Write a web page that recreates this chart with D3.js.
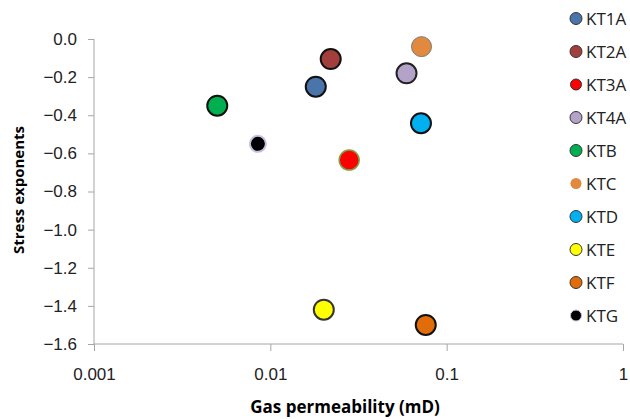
<!DOCTYPE html>
<html>
<head>
<meta charset="utf-8">
<script src="https://cdn.jsdelivr.net/npm/d3@7"></script>
<style>
  body { margin: 0; background: #fff; }
  svg { font-family: "Open Sans", "Liberation Sans", sans-serif; }
  .axis path, .axis line { stroke: #a6a6a6; }
  .axis text { fill: #222; font-size: 17px; }
</style>
</head>
<body>
<svg id="chart" width="630" height="419"></svg>
<script>
// samples, gas permeability (mD) and stress exponents
var samples = ["KT1A", "KT2A", "KT3A", "KT4A", "KTB", "KTC", "KTD", "KTE", "KTF", "KTG"];
var permeability = [0.0181, 0.0220, 0.0280, 0.0592, 0.0050, 0.0720, 0.0715, 0.0201, 0.0761, 0.0085];
var stressExp = [-0.25, -0.105, -0.635, -0.18, -0.35, -0.04, -0.442, -1.42, -1.50, -0.55];

var xTicks = [0.001, 0.01, 0.1, 1];
var yTicks = [0, -0.2, -0.4, -0.6, -0.8, -1.0, -1.2, -1.4, -1.6];

// marker look per sample
var fills = ["#4a75ab", "#a23f3d", "#ff0000", "#b3a3c8", "#00b050", "#e0893f", "#00b0f0", "#ffff00", "#e36c0a", "#000000"];
var strokes = ["#111", "#111", "#7ea045", "#222", "#111", "#7a7a7a", "#111", "#333", "#111", "#c9bde0"];
var widths = [2, 2, 1.5, 2, 2, 1, 2, 2, 2, 2];
var radius = [10, 10, 10, 10, 10, 10, 10, 10, 10, 8];

var data = samples.map(function(s, i) {
    return { name: s, perm: permeability[i], exp: stressExp[i], i: i };
});

var svg = d3.select("#chart");
var plot = { left: 94, right: 623, top: 39, bottom: 344 };

// log x scale, linear y scale
var x = d3.scaleLog().domain([0.001, 1]).range([plot.left, plot.right]);
var y = d3.scaleLinear().domain([-1.6, 0]).range([plot.bottom, plot.top]);

var xAxis = d3.axisBottom(x).tickValues(xTicks).tickSize(7).tickPadding(17)
    .tickFormat(function(d) { return String(d); });
var yAxis = d3.axisLeft(y).tickValues(yTicks).tickSize(6).tickPadding(11)
    .tickFormat(d3.format(".1f"));

svg.append("g").attr("class", "axis")
    .attr("transform", "translate(0," + plot.bottom + ")")
    .call(xAxis)
    .call(function(g) { g.select(".domain").attr("d", "M" + plot.left + ",0H" + plot.right); });

svg.append("g").attr("class", "axis")
    .attr("transform", "translate(" + plot.left + ",0)")
    .call(yAxis)
    .call(function(g) { g.select(".domain").attr("d", "M0," + plot.top + "V" + plot.bottom); });

// axis titles
svg.append("text")
    .attr("x", 345)
    .attr("y", 413)
    .attr("text-anchor", "middle")
    .style("font-weight", "bold")
    .style("font-size", "17px")
    .text("Gas permeability (mD)");

svg.append("text")
    .attr("transform", "translate(24,190) rotate(-90)")
    .attr("text-anchor", "middle")
    .style("font-weight", "bold")
    .style("font-size", "15px")
    .text("Stress exponents");

// points
svg.append("g").selectAll("circle")
    .data(data)
    .enter()
    .append("circle")
    .attr("cx", function(d) { return x(d.perm); })
    .attr("cy", function(d) { return y(d.exp); })
    .attr("r", function(d) { return radius[d.i]; })
    .attr("fill", function(d) { return fills[d.i]; })
    .attr("stroke", function(d) { return strokes[d.i]; })
    .attr("stroke-width", function(d) { return widths[d.i]; });

// legend
var legend = svg.append("g").selectAll("g")
    .data(data)
    .enter()
    .append("g")
    .attr("transform", function(d, i) { return "translate(576," + (18.5 + i * 33) + ")"; });

legend.append("circle")
    .attr("r", function(d) { return d.i == 2 || d.i == 5 || d.i == 9 ? 5.5 : 6; })
    .attr("fill", function(d) { return fills[d.i]; })
    .attr("stroke", function(d) { return d.i == 9 ? "#c9bde0" : d.i == 5 ? "none" : "#333"; })
    .attr("stroke-width", 1);

legend.append("text")
    .attr("x", 10)
    .attr("dy", "0.36em")
    .style("font-size", "17px")
    .style("fill", "#222")
    .text(function(d) { return d.name; });
</script>
</body>
</html>
